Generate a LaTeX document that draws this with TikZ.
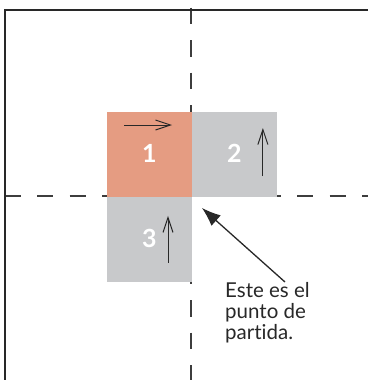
\documentclass[tikz,border=0pt]{standalone}
\usepackage{fontspec}
\setmainfont{Lato}[RawFeature={-liga}]
\usetikzlibrary{arrows.meta,positioning,calc}
\definecolor{sqsalmon}{RGB}{229,156,130}
\definecolor{sqgray}{RGB}{200,201,203}
\definecolor{inkdark}{RGB}{40,40,40}
\tikzset{
  tile/.style={rectangle, minimum size=84.5pt, inner sep=0pt, fill=sqgray, text=white, font=\bfseries\fontsize{25}{25}\selectfont},
  guide/.style={line width=1.4pt, color=inkdark!90},
  move/.style={line width=1pt, color=inkdark, -{Straight Barb[length=15pt,width=10pt]}},
  pointer/.style={line width=1.3pt, color=inkdark, -{Latex[length=19pt,width=14pt]}}
}
\begin{document}
\begin{tikzpicture}[x=1pt, y=-1pt]
\useasboundingbox (0,0) rectangle (367,380);
% Guide lines
\draw[guide, dash pattern=on 16.5pt off 16pt] (191,7.5) -- (191,385);
\draw[guide, dash pattern=on 16pt off 16.5pt] (4.5,196) -- (372,196);

% Tiles
\node (one) [tile, fill=sqsalmon, anchor=north west] at (107,112) {\raisebox{2pt}{1}};
\node (two) [tile, right=0pt of one] {\raisebox{2pt}{2}};
\node (three) [tile, below=0pt of one] {\raisebox{2pt}{3}};

% Direction arrows
\draw[move] ($(one.north west)+(17,13)$) -- ($(one.north west)+(65,13)$);
\draw[move] ($(two.north west)+(71,64)$) -- ($(two.north west)+(71,16)$);
\draw[move] ($(three.north west)+(61,66)$) -- ($(three.north west)+(61,19)$);

% Note
\node (note) [anchor=north west, align=left, inner sep=0pt, text=inkdark, font=\fontsize{20.5}{21}\selectfont] at (225,282) {Este es el\\punto de\\partida.};
\coordinate (corner) at ($(one.south east)+(10,11)$);
\draw[pointer] ($(note.north west)+(60,0)$) -- (corner);

% Frame
\draw[line width=2.4pt, color=inkdark] (5,385) -- (5,10) -- (372,10);
\end{tikzpicture}
\end{document}
